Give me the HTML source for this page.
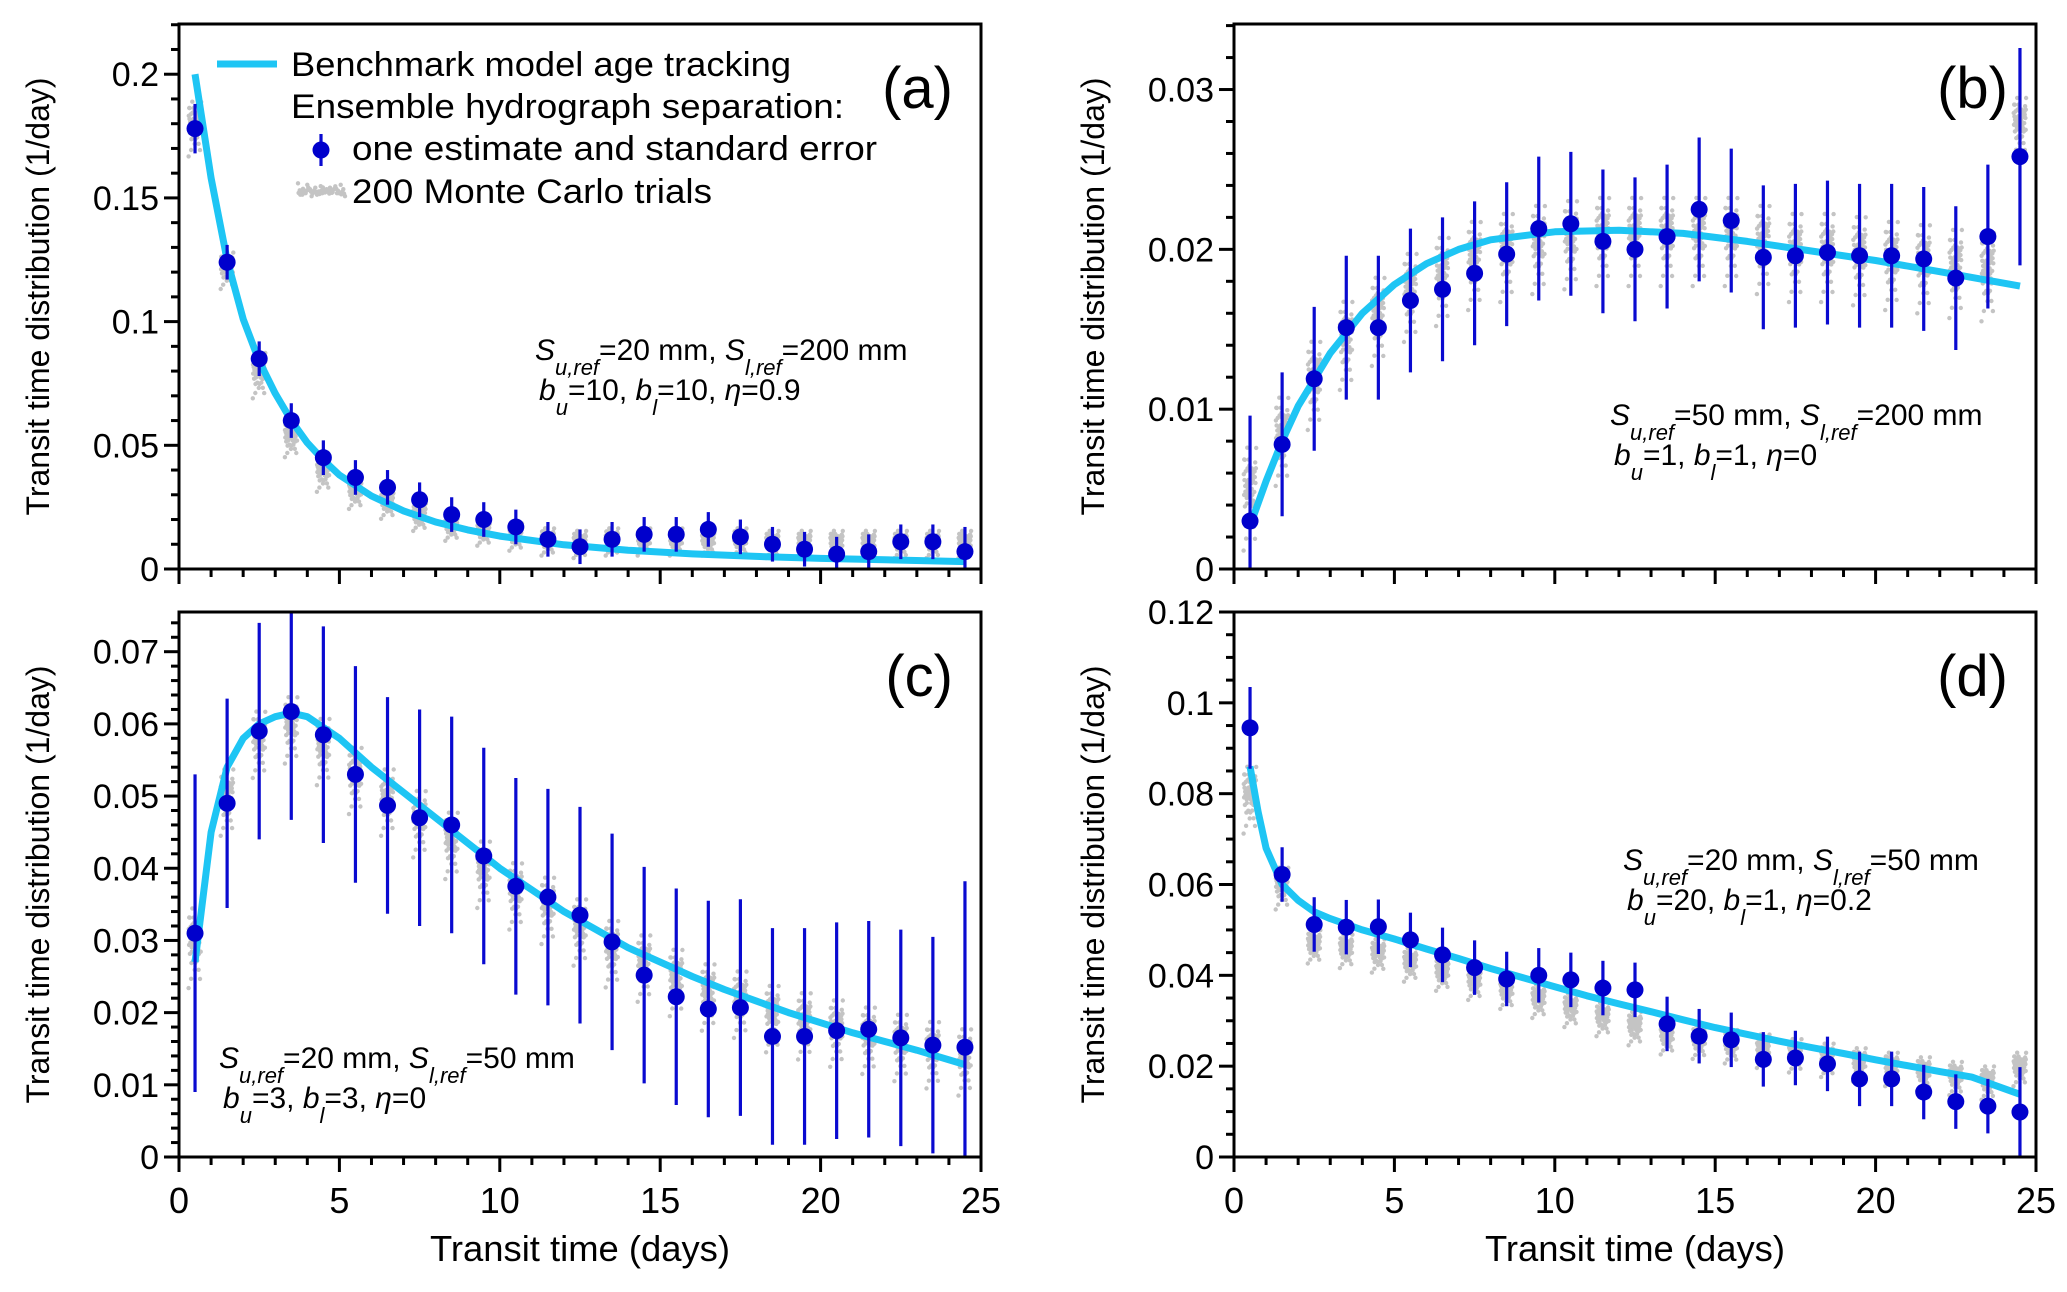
<!DOCTYPE html>
<html><head><meta charset="utf-8"><style>
html,body{margin:0;padding:0;background:#fff;}
svg{display:block;font-family:"Liberation Sans",Arial,sans-serif;}
</style></head><body>
<svg id="fig" width="2067" height="1292" viewBox="0 0 2067 1292" xmlns="http://www.w3.org/2000/svg"></svg>
<script>
// ---- data ----
const xCats = [0.5,1.5,2.5,3.5,4.5,5.5,6.5,7.5,8.5,9.5,10.5,11.5,12.5,13.5,14.5,15.5,16.5,17.5,18.5,19.5,20.5,21.5,22.5,23.5,24.5];
const xTicks = [0,5,10,15,20,25];

const estA = [0.178,0.124,0.085,0.060,0.045,0.037,0.033,0.028,0.022,0.020,0.017,0.012,0.009,0.012,0.014,0.014,0.016,0.013,0.010,0.008,0.006,0.007,0.011,0.011,0.007];
const errA = [0.010,0.007,0.007,0.007,0.007,0.007,0.007,0.007,0.007,0.007,0.007,0.007,0.007,0.007,0.007,0.007,0.007,0.007,0.007,0.007,0.007,0.007,0.007,0.007,0.010];
const curveAx = [0.5,1,1.5,2,2.5,3,3.5,4,4.5,5,6,7,8,9,10,12,14,16,18,20,22,24.5];
const curveAy = [0.2,0.158,0.125,0.101,0.084,0.071,0.06,0.051,0.044,0.038,0.0295,0.0235,0.019,0.0158,0.0133,0.0098,0.0076,0.0061,0.0051,0.0043,0.0037,0.003];
const mcMidA = [0.18,0.122,0.08,0.054,0.04,0.032,0.028,0.022,0.018,0.016,0.014,0.012,0.011,0.012,0.012,0.012,0.012,0.012,0.011,0.011,0.011,0.011,0.011,0.011,0.011];
const mcSprA = [0.012,0.008,0.01,0.008,0.008,0.007,0.007,0.006,0.006,0.006,0.006,0.006,0.006,0.006,0.006,0.006,0.006,0.006,0.006,0.006,0.006,0.006,0.006,0.006,0.006];
const yTicksA = [0,0.05,0.1,0.15,0.2];
const yLabelsA = ["0","0.05","0.1","0.15","0.2"];

const estB = [0.0030,0.0078,0.0119,0.0151,0.0151,0.0168,0.0175,0.0185,0.0197,0.0213,0.0216,0.0205,0.0200,0.0208,0.0225,0.0218,0.0195,0.0196,0.0198,0.0196,0.0196,0.0194,0.0182,0.0208,0.0258];
const errB = [0.0066,0.0045,0.0045,0.0045,0.0045,0.0045,0.0045,0.0045,0.0045,0.0045,0.0045,0.0045,0.0045,0.0045,0.0045,0.0045,0.0045,0.0045,0.0045,0.0045,0.0045,0.0045,0.0045,0.0045,0.0068];
const curveBx = [0.5,1,1.5,2,3,4,5,6,7,8,10,12,14,16,18,20,22,24.5];
const curveBy = [0.0027,0.0055,0.008,0.0102,0.0135,0.016,0.0178,0.0191,0.02,0.0206,0.0211,0.0212,0.021,0.0205,0.0199,0.0193,0.0186,0.0177];
const mcMidB = [0.005,0.0085,0.012,0.0145,0.016,0.0175,0.0185,0.0195,0.02,0.0205,0.0208,0.021,0.021,0.021,0.021,0.021,0.0205,0.02,0.02,0.0198,0.0195,0.0193,0.019,0.0188,0.028];
const mcSprB = [0.0035,0.003,0.003,0.003,0.003,0.003,0.003,0.003,0.003,0.003,0.003,0.003,0.003,0.003,0.003,0.003,0.003,0.003,0.003,0.003,0.003,0.003,0.003,0.003,0.002];
const yTicksB = [0,0.01,0.02,0.03];
const yLabelsB = ["0","0.01","0.02","0.03"];

const estC = [0.031,0.049,0.059,0.0617,0.0585,0.053,0.0487,0.047,0.046,0.0417,0.0375,0.036,0.0335,0.0298,0.0252,0.0222,0.0205,0.0207,0.0167,0.0167,0.0175,0.0177,0.0165,0.0155,0.0152];
const errC = [0.022,0.0145,0.015,0.015,0.015,0.015,0.015,0.015,0.015,0.015,0.015,0.015,0.015,0.015,0.015,0.015,0.015,0.015,0.015,0.015,0.015,0.015,0.015,0.015,0.023];
const curveCx = [0.5,1,1.5,2,2.5,3,3.5,4,5,6,7,8,9,10,11,12,13,14,15,16,17,18,19,20,21,22,23,24.5];
const curveCy = [0.027,0.045,0.054,0.058,0.06,0.061,0.0615,0.061,0.058,0.054,0.0505,0.047,0.0435,0.04,0.037,0.034,0.0315,0.029,0.027,0.025,0.0232,0.0216,0.02,0.0186,0.0172,0.016,0.0148,0.0128];
const mcMidC = [0.03,0.05,0.058,0.06,0.057,0.053,0.05,0.047,0.044,0.04,0.037,0.035,0.032,0.029,0.027,0.025,0.023,0.022,0.02,0.019,0.018,0.017,0.016,0.015,0.014];
const mcSprC = [0.006,0.005,0.005,0.005,0.005,0.005,0.005,0.005,0.005,0.005,0.005,0.005,0.005,0.005,0.005,0.005,0.005,0.005,0.005,0.005,0.005,0.005,0.005,0.005,0.005];
const yTicksC = [0,0.01,0.02,0.03,0.04,0.05,0.06,0.07];
const yLabelsC = ["0","0.01","0.02","0.03","0.04","0.05","0.06","0.07"];

const estD = [0.0945,0.0622,0.0512,0.0506,0.0507,0.0478,0.0445,0.0417,0.0392,0.0400,0.0390,0.0372,0.0368,0.0293,0.0266,0.0258,0.0215,0.0218,0.0205,0.0172,0.0172,0.0143,0.0122,0.0112,0.0099];
const errD = [0.009,0.006,0.006,0.006,0.006,0.006,0.006,0.006,0.006,0.006,0.006,0.006,0.006,0.006,0.006,0.006,0.006,0.006,0.006,0.006,0.006,0.006,0.006,0.006,0.0099];
const curveDx = [0.5,0.75,1,1.5,2,2.5,3,4,5,6,7,8,9,10,11,12,13,14,15,16,17,18,19,20,21,22,23,24.5];
const curveDy = [0.086,0.076,0.068,0.06,0.0565,0.054,0.0525,0.05,0.048,0.0458,0.0437,0.0415,0.0395,0.0375,0.0355,0.0337,0.032,0.0302,0.0285,0.027,0.0255,0.0241,0.0228,0.0214,0.0201,0.0188,0.0176,0.0138];
const mcMidD = [0.08,0.06,0.047,0.046,0.045,0.043,0.041,0.039,0.037,0.035,0.033,0.031,0.029,0.027,0.026,0.025,0.024,0.023,0.022,0.021,0.02,0.019,0.018,0.017,0.02];
const mcSprD = [0.008,0.005,0.004,0.004,0.004,0.004,0.004,0.004,0.004,0.004,0.004,0.004,0.004,0.004,0.004,0.004,0.004,0.004,0.004,0.004,0.004,0.004,0.004,0.004,0.004];
const yTicksD = [0,0.02,0.04,0.06,0.08,0.1,0.12];
const yLabelsD = ["0","0.02","0.04","0.06","0.08","0.1","0.12"];

// ---- drawing ----
const NS = "http://www.w3.org/2000/svg";
const svg = document.getElementById('fig');
function mk(tag, attrs, parent){
  const e = document.createElementNS(NS, tag);
  for (const k in attrs) e.setAttribute(k, attrs[k]);
  (parent||svg).appendChild(e);
  return e;
}
// deterministic jitter pattern (layout only)
const jit = [];
for (let i=0;i<55;i++){
  const a=(i*0.618034)%1, b=(i*0.754877)%1, c=(i*0.569840)%1, d=(i*0.31831)%1;
  jit.push([(a-0.5)*2*0.2, ((b+c+d)/3-0.5)*2.2]);
}

function panel(cfg){
  const g = mk('g',{});
  
  
  const L=cfg.L,R=cfg.R,T=cfg.T,B=cfg.B;
  const xs = v => L + (v/25)*(R-L);
  const ys = v => B - (v/cfg.ymax)*(B-T);
  const mc = mk('g',{fill:'#c4c4c4'},g);
  
  
  xCats.forEach((x,i)=>{
    jit.forEach(j=>{
      mk('circle',{cx:(xs(x+j[0])).toFixed(1), cy:(ys(cfg.mcMid[i]+j[1]*cfg.mcSpr[i])).toFixed(1), r:2.2},mc);
    });
  });
  const pts = cfg.cx.map((x,i)=>xs(x).toFixed(1)+','+ys(cfg.cy[i]).toFixed(1)).join(' ');
  const pl = mk('polyline',{points:pts,fill:'none',stroke:'#1ec5f4','stroke-width':7,'stroke-linejoin':'round'},g);
  
  
  xCats.forEach((x,i)=>{
    const lo=Math.max(0,cfg.est[i]-cfg.err[i]), hi=Math.min(cfg.ymax,cfg.est[i]+cfg.err[i]);
    const ln = mk('line',{x1:xs(x),x2:xs(x),y1:ys(lo),y2:ys(hi),stroke:'#0a0ad0','stroke-width':3.2},g);
    
    
    const c = mk('circle',{cx:xs(x),cy:ys(cfg.est[i]),r:8.5,fill:'#0000cc'},g);
    
    
  });
  const fr = mk('rect',{x:L,y:T,width:R-L,height:B-T,fill:'none',stroke:'#000','stroke-width':3},g);
  
  
  for (let v=0; v<=25; v++){
    const maj = v%5===0;
    mk('line',{x1:xs(v),x2:xs(v),y1:B,y2:B+(maj?15:8),stroke:'#000','stroke-width':3},g);
  }
  if (cfg.xlabels){
    xTicks.forEach(v=>{
      const t = mk('text',{x:xs(v),y:B+56,'font-size':36,'text-anchor':'middle'},g);
      t.textContent = v;
      
      
    });
    const xt = mk('text',{x:(L+R)/2,y:B+104,'font-size':36,'text-anchor':'middle',textLength:300,lengthAdjust:'spacingAndGlyphs'},g);
    xt.textContent = 'Transit time (days)';
    
    
  }
  for (let v=0; v<=cfg.ymax+1e-9; v+=cfg.minor){
    const isMaj = Math.abs(v/cfg.major - Math.round(v/cfg.major))<1e-6;
    mk('line',{x1:L-(isMaj?15:8),x2:L,y1:ys(v),y2:ys(v),stroke:'#000','stroke-width':3},g);
  }
  cfg.yt.forEach((v,i)=>{
    const t = mk('text',{x:L-20,y:ys(v)+12,'font-size':34,'text-anchor':'end'},g);
    t.textContent = cfg.yl[i];
    
    
  });
  const yt = mk('text',{x:0,y:0,'font-size':32,'text-anchor':'middle',transform:`translate(${L-130},${(T+B)/2}) rotate(-90)`},g);
  yt.textContent = 'Transit time distribution (1/day)';
  
  
  const pl2 = mk('text',{x:R-28,y:T+84,'font-size':58,'text-anchor':'end'},g);
  pl2.textContent = '('+cfg.id+')';
  
  
  const an = mk('g',{'font-size':30},g);
  
  
  const [ax,ay,su,sl,bu,bl,eta]=cfg.ann;
  an.innerHTML =
   `<text x="${ax}" y="${ay}"><tspan font-style="italic">S</tspan><tspan font-style="italic" font-size="22" dy="15">u,ref</tspan><tspan dy="-15">=${su} mm, </tspan><tspan font-style="italic">S</tspan><tspan font-style="italic" font-size="22" dy="15">l,ref</tspan><tspan dy="-15">=${sl} mm</tspan></text>`+
   `<text x="${ax+4}" y="${ay+40}"><tspan font-style="italic">b</tspan><tspan font-style="italic" font-size="22" dy="15">u</tspan><tspan dy="-15">=${bu}, </tspan><tspan font-style="italic">b</tspan><tspan font-style="italic" font-size="22" dy="15">l</tspan><tspan dy="-15">=${bl}, </tspan><tspan font-style="italic">η</tspan><tspan>=${eta}</tspan></text>`;
  return {xs,ys,g};
}

panel({id:'a',L:179,R:981,T:24,B:569,ymax:0.2203,major:0.05,minor:0.01,yt:yTicksA,yl:yLabelsA,est:estA,err:errA,cx:curveAx,cy:curveAy,mcMid:mcMidA,mcSpr:mcSprA,xlabels:false,ann:[535,360,20,200,10,10,0.9]});
panel({id:'b',L:1234,R:2036,T:24,B:569,ymax:0.0341,major:0.01,minor:0.002,yt:yTicksB,yl:yLabelsB,est:estB,err:errB,cx:curveBx,cy:curveBy,mcMid:mcMidB,mcSpr:mcSprB,xlabels:false,ann:[1610,425,50,200,1,1,0]});
panel({id:'c',L:179,R:981,T:612,B:1157,ymax:0.0755,major:0.01,minor:0.002,yt:yTicksC,yl:yLabelsC,est:estC,err:errC,cx:curveCx,cy:curveCy,mcMid:mcMidC,mcSpr:mcSprC,xlabels:true,ann:[219,1068,20,50,3,3,0]});
panel({id:'d',L:1234,R:2036,T:612,B:1157,ymax:0.12,major:0.02,minor:0.005,yt:yTicksD,yl:yLabelsD,est:estD,err:errD,cx:curveDx,cy:curveDy,mcMid:mcMidD,mcSpr:mcSprD,xlabels:true,ann:[1623,870,20,50,20,1,0.2]});

const lg = mk('g',{'font-size':34});


mk('line',{x1:217,x2:277,y1:64,y2:64,stroke:'#1ec5f4','stroke-width':7},lg);
const t1 = mk('text',{x:291,y:76,textLength:500,lengthAdjust:'spacingAndGlyphs'},lg);
t1.textContent='Benchmark model age tracking';


const t2 = mk('text',{x:291,y:118,textLength:553,lengthAdjust:'spacingAndGlyphs'},lg);
t2.textContent='Ensemble hydrograph separation:';


mk('line',{x1:321,x2:321,y1:134,y2:166,stroke:'#0a0ad0','stroke-width':3.2},lg);
mk('circle',{cx:321,cy:150,r:8.5,fill:'#0000cc'},lg);
const t3 = mk('text',{x:352,y:160,textLength:525,lengthAdjust:'spacingAndGlyphs'},lg);
t3.textContent='one estimate and standard error';


const lgmc = mk('g',{fill:'#c4c4c4'},lg);
jit.forEach(j=>{ mk('circle',{cx:(322+j[0]*120).toFixed(1),cy:(191+j[1]*7).toFixed(1),r:2.2},lgmc); });
const t4 = mk('text',{x:352,y:203,textLength:360,lengthAdjust:'spacingAndGlyphs'},lg);
t4.textContent='200 Monte Carlo trials';


</script>
</body></html>
